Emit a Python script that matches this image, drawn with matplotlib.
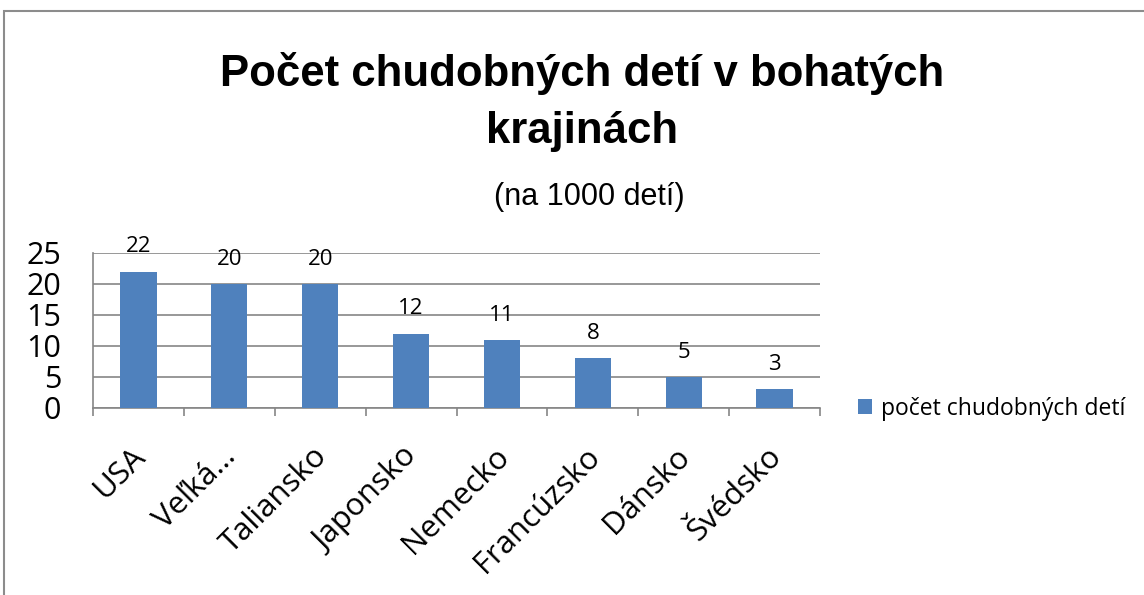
import matplotlib.pyplot as plt
from matplotlib.patches import Rectangle
import numpy as np

countries = ["USA", "Veľká…", "Taliansko", "Japonsko", "Nemecko",
             "Francúzsko", "Dánsko", "Švédsko"]
poor_children = [22, 20, 20, 12, 11, 8, 5, 3]
y_ticks = [0, 5, 10, 15, 20, 25]

BAR = "#4F81BD"
GRID = "#868686"
BODY = ["Open Sans", "DejaVu Sans"]
TITLE = ["Liberation Sans", "DejaVu Sans"]

fig = plt.figure(figsize=(11.44, 5.95), dpi=100)
ax = fig.add_axes([0.0813, 0.3143, 0.6355, 0.2605])

x = np.arange(len(countries))
bars = ax.bar(x, poor_children, width=0.4, color=BAR, zorder=3,
              label="počet chudobných detí")
for bar, v in zip(bars, poor_children):
    ax.text(bar.get_x() + bar.get_width() / 2, v + 2.3, str(v),
            ha="center", va="bottom", fontsize=16, family=BODY)

ax.set_xlim(-0.5, len(countries) - 0.5)
ax.set_ylim(0, 25)
ax.set_yticks(y_ticks)
ax.set_yticklabels([str(t) for t in y_ticks], family=BODY, fontsize=22)
ax.yaxis.grid(True, color=GRID, linewidth=1.2, zorder=0)
ax.tick_params(axis="y", length=0, pad=23)

# ticks at category boundaries
ax.set_xticks(np.arange(len(countries) + 1) - 0.5)
ax.set_xticklabels([])
ax.tick_params(axis="x", direction="out", length=6, color=GRID, width=1.2)
for i, name in enumerate(countries):
    ax.annotate(name, xy=(i, 0), xycoords="data", xytext=(-6, -24),
                textcoords="offset points", rotation=45, ha="right",
                va="top", rotation_mode="anchor", fontsize=22.5, family=BODY)

for s in ["top", "right"]:
    ax.spines[s].set_visible(False)
for s in ["left", "bottom"]:
    ax.spines[s].set_color(GRID)
    ax.spines[s].set_linewidth(1.2)

fig.text(0.509, 0.856, "Počet chudobných detí v bohatých", ha="center",
         va="baseline", fontsize=31.5, fontweight="bold", family=TITLE)
fig.text(0.509, 0.759, "krajinách", ha="center", va="baseline",
         fontsize=31.5, fontweight="bold", family=TITLE)
fig.text(0.515, 0.655, "(na 1000 detí)", ha="center", va="baseline",
         fontsize=22, family=TITLE)

fig.legend(handles=[bars], labels=["počet chudobných detí"],
           loc="center left", bbox_to_anchor=(0.732, 0.313), frameon=False,
           prop={"family": BODY, "size": 16.5}, handlelength=0.6,
           handleheight=0.6, handletextpad=0.4)

fig.patches.append(Rectangle((0.0035, -0.05), 1.1, 1.0315,
                             transform=fig.transFigure, fill=False,
                             edgecolor="#8C8C8C", linewidth=1.5))

fig.savefig("out.png", dpi=100)
